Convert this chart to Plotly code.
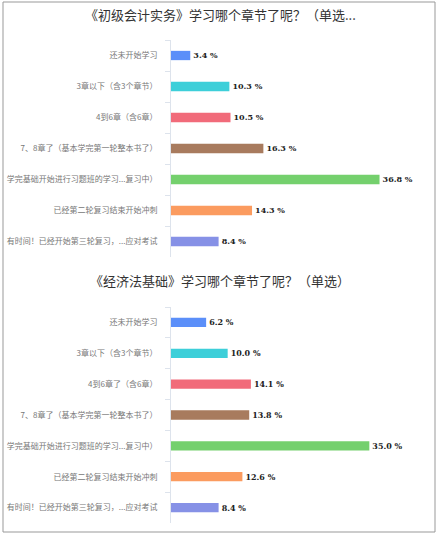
import plotly.graph_objects as go

# categories (same for both questions)
categories = [
    "还未开始学习",
    "3章以下（含3个章节）",
    "4到6章（含6章）",
    "7、8章了（基本学完第一轮整本书了）",
    "学完基础开始进行习题班的学习...复习中）",
    "已经第二轮复习结束开始冲刺",
    "有时间！已经开始第三轮复习，...应对考试",
]
categories_2 = list(categories)
categories_2[2] = "4到6章了（含6章）"

values_shiwu = [3.4, 10.3, 10.5, 16.3, 36.8, 14.3, 8.4]
values_jingjifa = [6.2, 10.0, 14.1, 13.8, 35.0, 12.6, 8.4]

title_1 = "《初级会计实务》学习哪个章节了呢？（单选..."
title_2 = "《经济法基础》学习哪个章节了呢？（单选）"

bar_colors = ["#5b8ff9", "#3dcfd9", "#f16b7a", "#a87b5e", "#74d06d", "#fb9b5f", "#8691e6"]

W, H = 438, 534
font_cn = "Noto Sans CJK SC"

def px_x(p):
    return p / W

def px_y(p):
    return 1 - p / H

fig = go.Figure()

# ===============
# bars
# ===============
for vals, cats, ax in [(values_shiwu, categories, ""), (values_jingjifa, categories_2, "2")]:
    fig.add_trace(go.Bar(
        x=vals,
        y=cats,
        orientation="h",
        width=0.3,
        marker=dict(color=bar_colors, line=dict(width=0)),
        text=["%.1f %%" % v for v in vals],
        textposition="outside",
        cliponaxis=False,
        textfont=dict(size=9.5, color="#222", family="DejaVu Serif", weight="bold"),
        xaxis="x" + ax,
        yaxis="y" + ax,
        showlegend=False,
    ))

yax_style = dict(
    type="category",
    autorange="reversed",
    automargin=False,
    showline=True,
    linecolor="#dde3ec",
    linewidth=1,
    ticks="outside",
    tickson="boundaries",
    ticklen=5,
    tickcolor="#dde3ec",
    ticklabelstandoff=11,
    tickfont=dict(size=8, color="#777", family=font_cn),
    showgrid=False,
    zeroline=False,
)
xax_style = dict(
    range=[0, 45],
    domain=[px_x(171), px_x(426)],
    visible=False,
    showgrid=False,
)

fig.update_layout(
    width=W,
    height=H,
    margin=dict(l=0, r=0, t=0, b=0),
    paper_bgcolor="white",
    plot_bgcolor="white",
    xaxis=dict(xax_style, anchor="y"),
    yaxis=dict(yax_style, domain=[px_y(257), px_y(40)], anchor="x"),
    xaxis2=dict(xax_style, anchor="y2"),
    yaxis2=dict(yax_style, domain=[px_y(523), px_y(307)], anchor="x2"),
    bargap=0.7,
)

# titles
for t, ypx in [(title_1, 15), (title_2, 280)]:
    fig.add_annotation(
        text=t, x=px_x(220), y=px_y(ypx), xref="paper", yref="paper",
        showarrow=False, xanchor="center", yanchor="middle",
        font=dict(size=13, color="#333", family=font_cn),
    )

# outer frame
fig.add_shape(type="rect", xref="paper", yref="paper",
              x0=px_x(3), x1=px_x(435), y0=px_y(532), y1=px_y(2),
              line=dict(color="#999", width=1))

# remove the default page margin so the figure fills the window exactly
fig.write_html("out.html", config={"displayModeBar": False},
               post_script="document.body.style.margin='0';")
